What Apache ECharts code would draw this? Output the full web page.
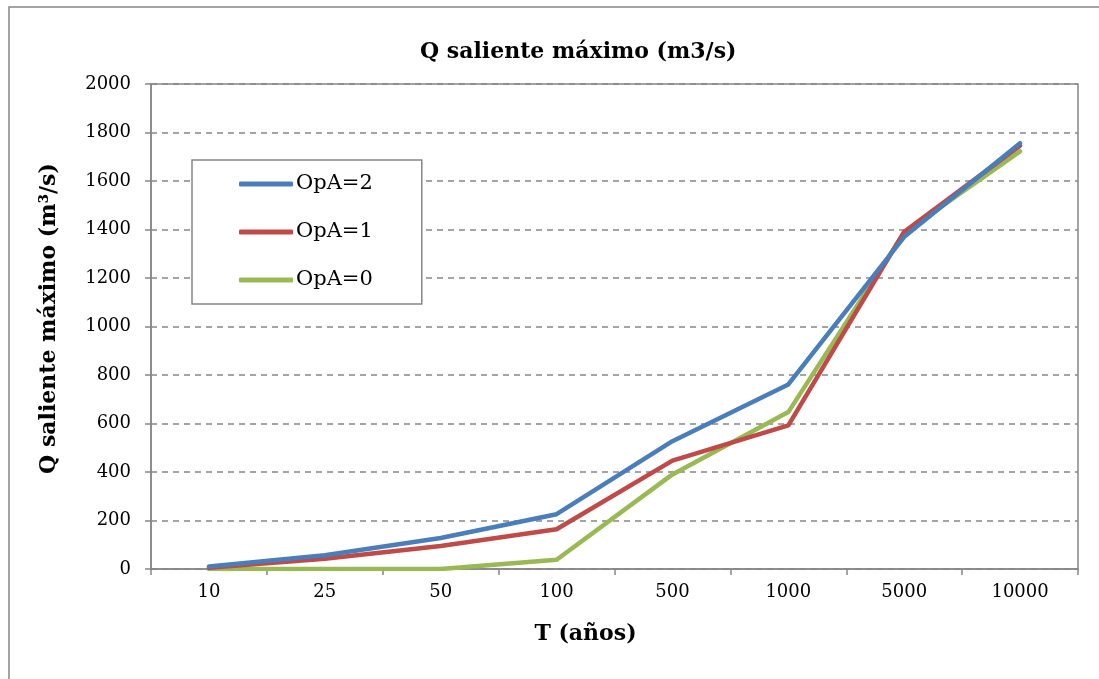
<!DOCTYPE html>
<html>
<head>
<meta charset="utf-8">
<script src="https://cdn.jsdelivr.net/npm/echarts@6/dist/echarts.min.js"></script>
<style>html,body{margin:0;padding:0;background:#fff;}#c{width:1099px;height:679px;}</style>
</head>
<body>
<div id="c"></div>
<script>
const categories = ['10', '25', '50', '100', '500', '1000', '5000', '10000'];
const seriesNames = ['OpA=2', 'OpA=1', 'OpA=0'];
const opa2 = [10, 57, 128, 226, 527, 761, 1370, 1756];
const opa1 = [5, 42, 95, 164, 447, 592, 1391, 1746];
const opa0 = [0, 0, 0, 38, 390, 647, 1387, 1722];
const yTicks = { min: 0, max: 2000, interval: 200 };
const colors = ['#4A7EBB', '#BE4B48', '#98B954'];

const FONT = 'DejaVu Serif';
const chart = echarts.init(document.getElementById('c'));
const mk = (name, data, i) => ({
  name, type: 'line', data, showSymbol: false, symbol: 'none',
  lineStyle: { color: colors[i], width: 4.5, cap: 'round', join: 'round' },
  itemStyle: { color: colors[i] }, z: 3 + (2 - i)
});
chart.setOption({
  animation: false,
  backgroundColor: '#fff',
  title: {
    text: 'Q saliente máximo (m3/s)',
    left: 415, top: 36,
    textStyle: { fontFamily: FONT, fontSize: 22, fontWeight: 'bold', color: '#000' }
  },
  graphic: [{
    type: 'rect', shape: { x: 9, y: 7, width: 1200, height: 800 },
    style: { fill: 'none', stroke: '#868686', lineWidth: 1.5 }, silent: true
  }],
  legend: {
    orient: 'vertical', left: 192, top: 160,
    data: seriesNames,
    icon: 'roundRect', itemWidth: 54, itemHeight: 5, itemGap: 24,
    padding: [12, 49, 12, 47],
    backgroundColor: '#fff', borderColor: '#868686', borderWidth: 1.5,
    textStyle: { fontFamily: FONT, fontSize: 21, color: '#000', lineHeight: 24, padding: [0, 0, 0, -2] }
  },
  grid: { left: 151, right: 21, top: 84, bottom: 110, show: true, borderColor: '#868686', borderWidth: 1.5, backgroundColor: 'transparent' },
  xAxis: {
    type: 'category', data: categories, boundaryGap: true,
    name: 'T (años)', nameLocation: 'middle', nameGap: 54,
    nameTextStyle: { fontFamily: FONT, fontSize: 22, fontWeight: 'bold', color: '#000', padding: [0, 58, 0, 0] },
    axisLine: { lineStyle: { color: '#868686', width: 1.5 } },
    axisTick: { show: true, alignWithLabel: false, length: 6, lineStyle: { color: '#868686', width: 1.5 } },
    axisLabel: { fontFamily: FONT, fontSize: 18, color: '#000', margin: 14 },
    splitLine: { show: false }
  },
  yAxis: {
    type: 'value', min: yTicks.min, max: yTicks.max, interval: yTicks.interval,
    name: 'Q saliente máximo (m³/s)', nameLocation: 'middle', nameGap: 91,
    nameTextStyle: { fontFamily: FONT, fontSize: 22, fontWeight: 'bold', color: '#000', padding: [0, 0, 0, 16] },
    axisLine: { show: true, lineStyle: { color: '#868686', width: 1.5 } },
    axisTick: { show: true, length: 6, lineStyle: { color: '#868686', width: 1.5 } },
    axisLabel: { fontFamily: FONT, fontSize: 18, color: '#000', margin: 20, formatter: v => String(v) },
    splitLine: { show: true, lineStyle: { color: '#868686', width: 1.5, type: [6, 5] } }
  },
  series: [mk(seriesNames[0], opa2, 0), mk(seriesNames[1], opa1, 1), mk(seriesNames[2], opa0, 2)]
});
</script>
</body>
</html>
